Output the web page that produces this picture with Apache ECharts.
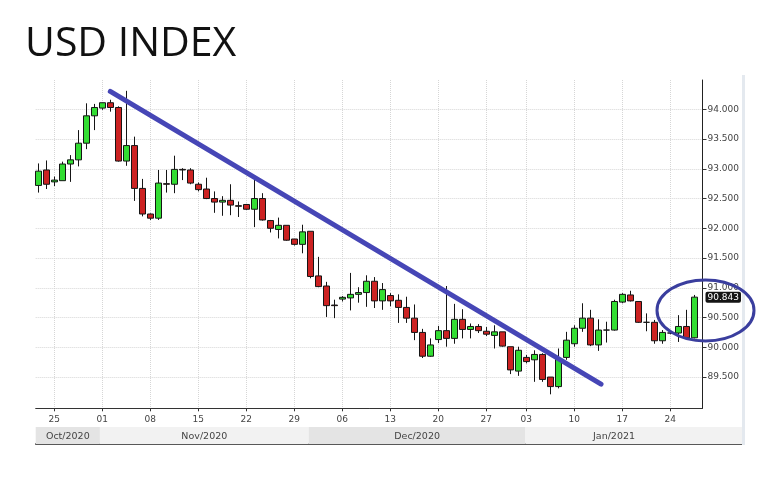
<!DOCTYPE html>
<html><head><meta charset="utf-8">
<script src="https://cdn.jsdelivr.net/npm/echarts@6/dist/echarts.min.js"></script>
<style>html,body{margin:0;padding:0;background:#fff}#c{width:774px;height:484px}</style>
</head><body><div id="c"></div>
<script>
// ---- data (USD index daily candles) ----
const dates = [
 '2020-10-22','2020-10-23',
 '2020-10-25','2020-10-26','2020-10-27','2020-10-28','2020-10-29','2020-10-30',
 '2020-11-01','2020-11-02','2020-11-03','2020-11-04','2020-11-05','2020-11-06',
 '2020-11-08','2020-11-09','2020-11-10','2020-11-11','2020-11-12','2020-11-13',
 '2020-11-15','2020-11-16','2020-11-17','2020-11-18','2020-11-19','2020-11-20',
 '2020-11-22','2020-11-23','2020-11-24','2020-11-25','2020-11-26','2020-11-27',
 '2020-11-29','2020-11-30','2020-12-01','2020-12-02','2020-12-03','2020-12-04',
 '2020-12-06','2020-12-07','2020-12-08','2020-12-09','2020-12-10','2020-12-11',
 '2020-12-13','2020-12-14','2020-12-15','2020-12-16','2020-12-17','2020-12-18',
 '2020-12-20','2020-12-21','2020-12-22','2020-12-23','2020-12-24','2020-12-25',
 '2020-12-27','2020-12-28','2020-12-29','2020-12-30','2020-12-31',
 '2021-01-03','2021-01-04','2021-01-05','2021-01-06','2021-01-07','2021-01-08',
 '2021-01-10','2021-01-11','2021-01-12','2021-01-13','2021-01-14','2021-01-15',
 '2021-01-17','2021-01-18','2021-01-19','2021-01-20','2021-01-21','2021-01-22',
 '2021-01-24','2021-01-25','2021-01-26','2021-01-27'
];
const opens = [
 92.72,92.98,
 92.78,92.80,93.08,93.15,93.43,93.89,
 94.02,94.11,94.03,93.13,93.39,92.67,
 92.24,92.17,92.75,92.74,92.99,92.98,
 92.74,92.66,92.50,92.44,92.47,92.38,
 92.40,92.32,92.50,92.13,91.98,92.05,
 91.82,91.73,91.95,91.20,91.03,90.71,
 90.81,90.83,90.89,90.92,91.11,90.78,
 90.87,90.79,90.67,90.49,90.25,89.85,
 90.13,90.28,90.15,90.47,90.30,90.35,
 90.27,90.20,90.26,90.01,89.60,
 89.83,89.79,89.88,89.50,89.34,89.83,
 90.06,90.32,90.49,90.04,90.29,90.29,
 90.76,90.88,90.77,90.42,90.42,90.11,
 90.24,90.24,90.35,90.16
];
const closes = [
 92.96,92.74,
 92.81,93.08,93.15,93.43,93.89,94.03,
 94.11,94.03,93.13,93.39,92.67,92.24,
 92.17,92.76,92.74,92.99,92.98,92.76,
 92.65,92.50,92.44,92.47,92.39,92.37,
 92.32,92.50,92.14,92.00,92.05,91.80,
 91.73,91.94,91.19,91.02,90.70,90.70,
 90.84,90.89,90.92,91.11,90.78,90.97,
 90.78,90.67,90.49,90.25,89.85,90.04,
 90.28,90.15,90.47,90.30,90.35,90.28,
 90.22,90.26,90.02,89.62,89.95,
 89.76,89.88,89.46,89.34,89.80,90.12,
 90.32,90.49,90.04,90.29,90.29,90.77,
 90.89,90.78,90.42,90.42,90.11,90.25,
 90.24,90.35,90.16,90.843
];
const lows = [
 92.60,92.66,
 92.71,92.80,92.78,93.04,93.33,93.65,
 93.99,93.96,93.12,93.05,92.46,92.20,
 92.14,92.14,92.60,92.59,92.81,92.74,
 92.62,92.49,92.26,92.21,92.22,92.19,
 92.31,92.02,92.13,91.93,91.83,91.79,
 91.71,91.58,91.16,91.01,90.51,90.49,
 90.77,90.62,90.75,90.68,90.66,90.63,
 90.69,90.41,90.41,90.12,89.82,89.84,
 90.07,90.01,90.06,90.15,90.15,90.24,
 90.19,89.98,90.01,89.55,89.52,
 89.73,89.42,89.42,89.21,89.31,89.79,
 90.01,90.26,90.02,89.94,90.08,90.28,
 90.74,90.77,90.41,90.27,90.06,90.06,
 90.22,90.09,90.15,90.15
];
const highs = [
 93.09,93.14,
 92.87,93.12,93.23,93.65,94.10,94.09,
 94.11,94.16,94.05,94.31,93.54,92.83,
 92.25,92.98,92.98,93.22,93.01,93.01,
 92.77,92.85,92.62,92.54,92.74,92.45,
 92.41,92.82,92.59,92.14,92.18,92.05,
 91.82,92.06,91.95,91.52,91.10,90.80,
 90.86,91.25,91.01,91.21,91.18,91.08,
 90.91,90.89,90.85,90.72,90.31,90.15,
 90.36,91.03,90.73,90.64,90.40,90.39,
 90.34,90.37,90.26,90.01,90.01,
 89.87,89.95,89.90,89.50,89.98,90.26,
 90.37,90.74,90.63,90.47,90.43,90.80,
 90.91,90.95,90.77,90.57,90.46,90.29,
 90.26,90.54,90.63,90.88
];
const yTickValues = [89.5, 90, 90.5, 91, 91.5, 92, 92.5, 93, 93.5, 94];
const weekTickIndex = [2, 8, 14, 20, 26, 32, 38, 44, 50, 56, 61, 67, 73, 79];
const weekTickLabels = ['25','01','08','15','22','29','06','13','20','27','03','10','17','24'];
const monthLabels = ['Oct/2020','Nov/2020','Dec/2020','Jan/2021'];
const monthEdges = [-0.325, 7.7, 33.8, 60.9, 87.96];
const trendX = [9, 70.34];
const trendY = [94.30, 89.38];
const ellipseCenter = [83.4, 90.62];

// ---- layout constants ----
const X_MIN = -0.325, X_MAX = 83.025, X_BAND_MAX = 87.96;
const Y_MIN = 88.975, Y_MAX = 94.492;
const AXIS_FONT = 'DejaVu Sans';

const candleData = dates.map((d, i) => [i, opens[i], closes[i], lows[i], highs[i]]);
const lastClose = closes[closes.length - 1];

const chart = echarts.init(document.getElementById('c'), null, {renderer: 'canvas'});
chart.setOption({
  animation: false,
  backgroundColor: '#fff',
  title: {
    text: 'USD INDEX', left: 25, top: 24, padding: 0,
    textStyle: {fontFamily: 'Open Sans', fontSize: 41, fontWeight: 'normal', color: '#111'}
  },
  grid: [
    {left: 35.7, top: 80, width: 666.8, height: 328.3},
    {left: 35.7, top: 427, width: 706.3, height: 17}
  ],
  xAxis: [
    {
      type: 'value', gridIndex: 0, min: X_MIN, max: X_MAX,
      axisLine: {show: true, onZero: false, lineStyle: {color: '#333', width: 1}},
      axisTick: {show: true, customValues: weekTickIndex, length: 3, lineStyle: {color: '#333'}},
      axisLabel: {
        show: true, customValues: weekTickIndex, margin: 7,
        formatter: v => weekTickLabels[weekTickIndex.indexOf(Math.round(v))],
        fontFamily: AXIS_FONT, fontSize: 9, color: '#444'
      },
      splitLine: {show: true, lineStyle: {type: 'dotted', color: '#d6d6d6'}}
    },
    {
      type: 'value', gridIndex: 1, min: X_MIN, max: X_BAND_MAX,
      axisLine: {show: true, onZero: false, lineStyle: {color: '#222', width: 1.5}},
      axisTick: {show: false}, axisLabel: {show: false}, splitLine: {show: false}
    }
  ],
  yAxis: [
    {
      type: 'value', gridIndex: 0, position: 'right', min: Y_MIN, max: Y_MAX,
      axisLine: {show: true, onZero: false, lineStyle: {color: '#222', width: 1}},
      axisTick: {show: true, customValues: yTickValues, length: 4, lineStyle: {color: '#333'}},
      axisLabel: {
        show: true, customValues: yTickValues, margin: 5,
        formatter: v => v.toFixed(3),
        fontFamily: AXIS_FONT, fontSize: 9, color: '#444'
      },
      splitLine: {show: true, lineStyle: {type: 'dotted', color: '#d6d6d6'}}
    },
    {type: 'value', gridIndex: 1, min: 0, max: 1, show: false}
  ],
  series: [
    {
      type: 'candlestick', xAxisIndex: 0, yAxisIndex: 0,
      data: candleData,
      barWidth: 6,
      itemStyle: {color: '#33dd33', color0: '#cc2222', borderColor: '#151515', borderColor0: '#151515', borderWidth: 1},
      markLine: {
        silent: true, symbol: ['none', 'none'],
        lineStyle: {color: 'rgba(0,0,0,0)', width: 0},
        data: [{yAxis: lastClose}],
        label: {
          show: true, position: 'end', distance: 3,
          formatter: lastClose.toFixed(3),
          backgroundColor: '#151515', color: '#fff',
          fontFamily: AXIS_FONT, fontSize: 9, padding: [1, 2, 1, 2], borderRadius: 2
        }
      }
    },
    {
      type: 'line', xAxisIndex: 0, yAxisIndex: 0, z: 5,
      data: trendX.map((x, i) => [x, trendY[i]]),
      symbol: 'none',
      lineStyle: {color: '#4646b6', width: 5, cap: 'round'}
    },
    {
      type: 'custom', xAxisIndex: 1, yAxisIndex: 1,
      data: monthLabels.map((m, i) => [monthEdges[i], monthEdges[i + 1], i]),
      encode: {x: [0, 1]},
      renderItem: (params, api) => {
        const i = api.value(2);
        const s = api.value(0), e = api.value(1);
        const p0 = api.coord([s, 1]);
        const p1 = api.coord([e, 0]);
        const pc = api.coord([(s + Math.min(e, X_MAX)) / 2, 0.5]);
        return {
          type: 'group',
          children: [
            {type: 'rect', shape: {x: p0[0], y: p0[1], width: p1[0] - p0[0], height: p1[1] - p0[1]},
             style: {fill: i % 2 === 0 ? '#e4e4e4' : '#f2f2f2'}},
            {type: 'text', x: pc[0], y: pc[1] + 1,
             style: {text: monthLabels[i], fill: '#444', font: '9.5px "DejaVu Sans"', align: 'center', verticalAlign: 'middle'}}
          ]
        };
      }
    }
  ]
});

const c = chart.convertToPixel({gridIndex: 0}, ellipseCenter);
chart.setOption({
  graphic: [
    {type: 'rect', shape: {x: 742, y: 75, width: 3, height: 370}, style: {fill: '#e4e9ef'}, z: 1},
    {type: 'ellipse', shape: {cx: c[0], cy: c[1], rx: 48.5, ry: 30.5},
     style: {fill: 'none', stroke: '#3a3e9e', lineWidth: 3}, z: 100}
  ]
});
</script>
</body></html>
